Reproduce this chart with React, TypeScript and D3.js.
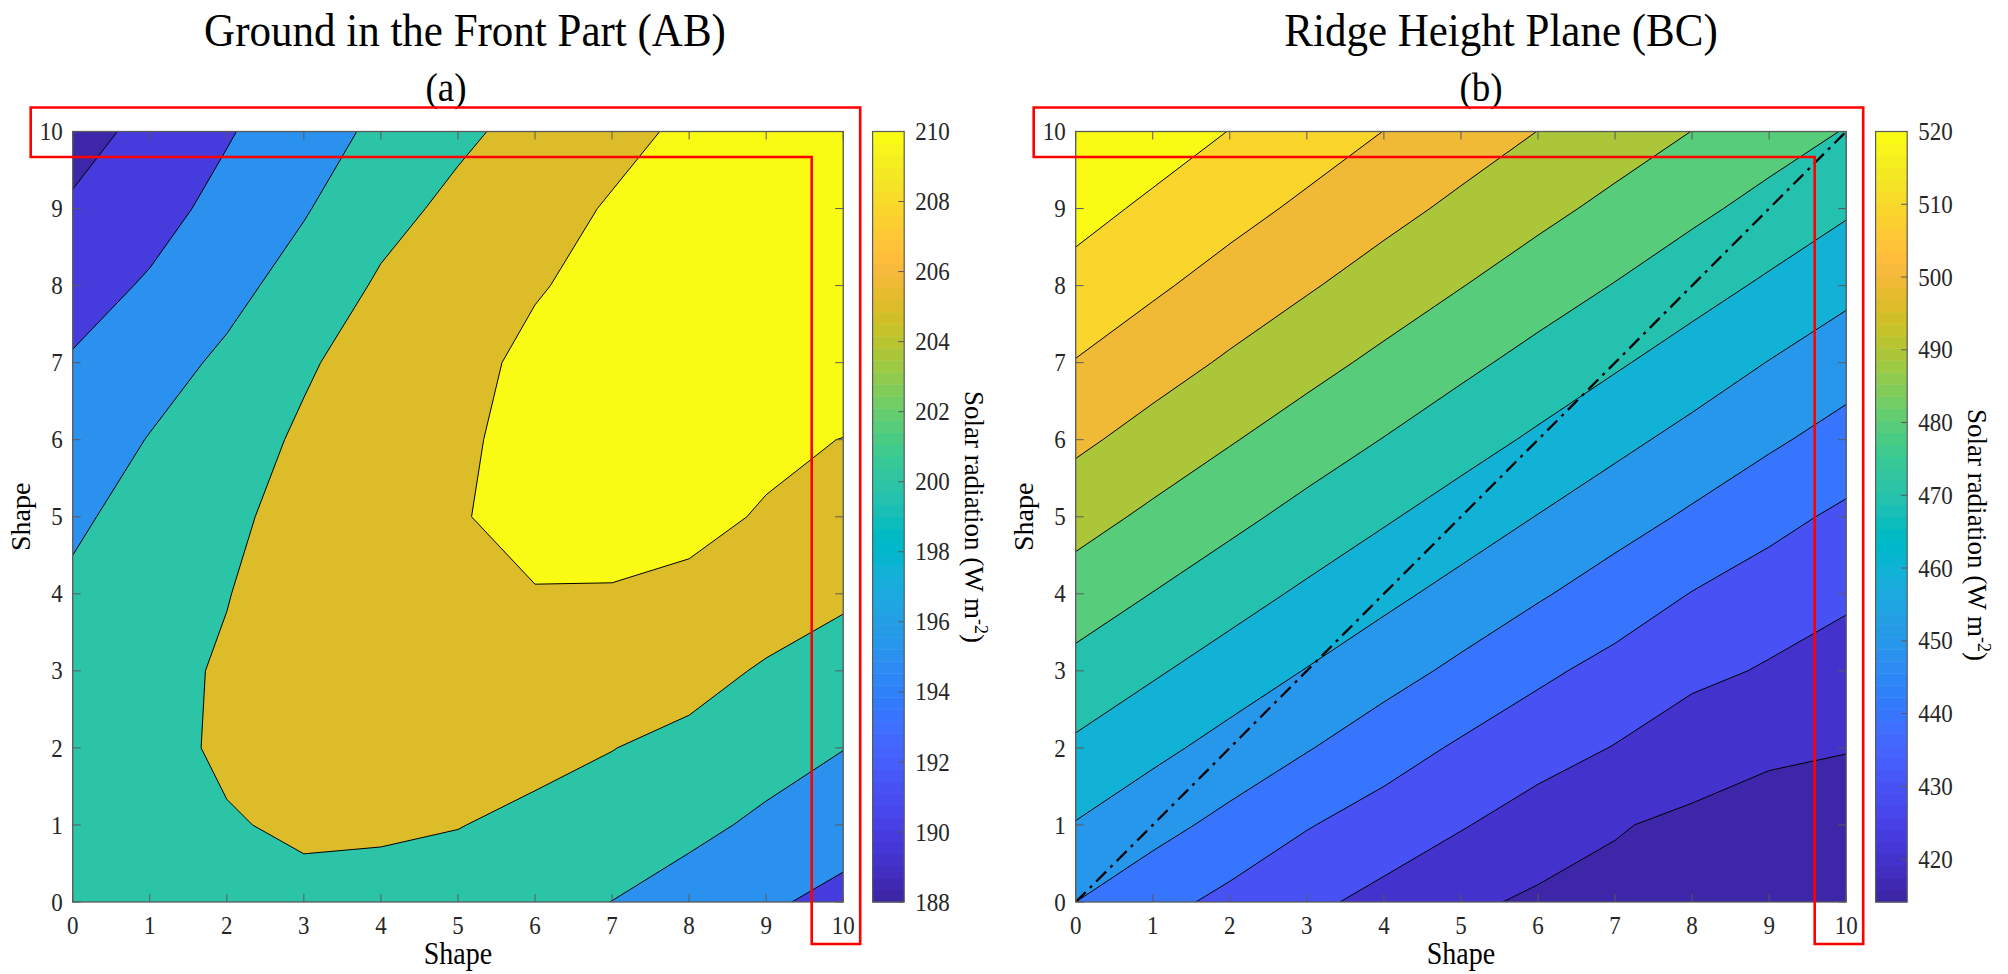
import React from "react";
import * as d3 from "d3";

// MATLAB parula colormap (64 entries)
const PARULA = [
  "#3e26a8", "#402ab4", "#422ec0", "#4332cb", "#4537d5", "#463cde", "#4741e5", "#4747eb",
  "#484df0", "#4852f4", "#4758f8", "#465efb", "#4563fd", "#4269fe", "#3e6fff", "#3875fe",
  "#327cfc", "#2f81fa", "#2e87f7", "#2d8cf3", "#2b91ef", "#2797eb", "#259be8", "#23a0e5",
  "#20a5e3", "#1ca9df", "#18addb", "#12b1d6", "#08b5d0", "#01b8ca", "#02bac3", "#0bbdbd",
  "#19bfb6", "#24c1ae", "#2cc4a7", "#31c69f", "#37c897", "#3fca8e", "#4acb84", "#57cc7a",
  "#64cd6f", "#72cd64", "#81cc59", "#8fcb4e", "#9dc943", "#abc739", "#b9c431", "#c5c22a",
  "#d1bf27", "#dcbd29", "#e6bb2d", "#f0ba36", "#f8ba3d", "#febe3c", "#fec338", "#fec934",
  "#fccf30", "#fad62d", "#f7dc2a", "#f5e327", "#f5e924", "#f6ef20", "#f7f51b", "#f9fb15",
];

const SHAPE_TICKS = [0, 1, 2, 3, 4, 5, 6, 7, 8, 9, 10];

// Ground in the front part (AB): rows are Shape (y) = 0..10, columns Shape (x) = 0..10
const AB_VALUES = [
  [201.8, 202.6, 203.4, 204.0, 204.0, 203.4, 202.0, 199.95, 197.9, 195.7, 193.6],
  [202.3, 203.3, 204.7, 205.6, 205.4, 205.1, 204.2, 202.9, 201.2, 199.1, 197.2],
  [202.5, 203.8, 205.6, 206.6, 207.0, 206.8, 206.0, 205.1, 203.6, 202.0, 200.1],
  [201.8, 203.7, 205.5, 207.0, 207.8, 208.3, 208.4, 207.9, 206.9, 204.4, 203.6],
  [200.9, 203.0, 204.85, 207.3, 208.6, 209.4, 209.9, 209.85, 209.5, 208.0, 205.5],
  [199.1, 202.0, 204.3, 206.2, 208.0, 209.85, 210.7, 210.9, 210.6, 209.8, 209.0],
  [197.2, 200.2, 203.2, 205.6, 207.5, 209.6, 210.8, 211.3, 211.4, 210.5, 209.95],
  [195.4, 198.0, 200.9, 204.5, 206.8, 209.2, 210.6, 211.2, 211.5, 211.6, 211.6],
  [193.1, 195.5, 198.5, 202.0, 205.6, 207.5, 209.8, 210.8, 211.3, 211.5, 211.6],
  [190.6, 193.3, 196.4, 199.6, 203.5, 206.1, 208.3, 210.4, 211.2, 211.5, 211.6],
  [188.2, 191.3, 194.6, 197.8, 201.0, 204.1, 206.5, 208.7, 210.8, 211.4, 211.6],
];
const AB_LEVELS = [190, 195, 200, 205, 210];
const AB_CLIM: [number, number] = [188, 210];
const AB_CB_TICKS = [188, 190, 192, 194, 196, 198, 200, 202, 204, 206, 208, 210];

// Ridge height plane (BC): rows are Shape (y) = 0..10, columns Shape (x) = 0..10
const BC_VALUES = [
  [450.0, 443.3, 437.4, 432.1, 427.2, 421.9, 418.4, 418.0, 416.7, 415.4, 414.1],
  [459.5, 453.4, 447.1, 440.6, 435.6, 430.7, 425.5, 420.5, 418.5, 417.6, 416.5],
  [468.3, 462.5, 456.6, 450.6, 444.4, 438.7, 434.0, 429.6, 423.8, 421.0, 420.3],
  [477.0, 471.2, 465.4, 459.6, 453.8, 447.9, 441.9, 437.0, 432.6, 429.0, 426.3],
  [485.4, 479.8, 474.1, 468.3, 462.5, 456.8, 451.1, 445.4, 439.7, 435.5, 431.4],
  [493.8, 488.1, 482.6, 476.9, 471.2, 465.4, 459.7, 454.1, 448.6, 442.9, 438.1],
  [502.0, 496.3, 490.7, 485.2, 479.7, 474.1, 468.4, 462.6, 457.0, 451.6, 446.2],
  [509.6, 504.2, 498.7, 493.2, 487.8, 482.3, 476.8, 471.2, 465.5, 459.7, 454.5],
  [516.7, 511.5, 506.2, 501.0, 495.6, 490.3, 484.9, 479.6, 474.0, 468.4, 462.6],
  [523.3, 518.2, 513.2, 508.2, 503.1, 497.9, 492.7, 487.5, 482.2, 476.8, 471.3],
  [530.0, 524.9, 519.8, 514.9, 509.9, 505.0, 499.9, 495.0, 489.9, 484.7, 479.5],
];
const BC_LEVELS = [420, 430, 440, 450, 460, 470, 480, 490, 500, 510, 520];
const BC_CLIM: [number, number] = [414.1, 520];
const BC_CB_TICKS = [420, 430, 440, 450, 460, 470, 480, 490, 500, 510, 520];

// Reference diagonal drawn on the ridge plane
const DIAGONAL: [number, number][] = [[0, 0], [10, 10]];

const FONT = "'Liberation Serif', 'Times New Roman', Times, serif";
const AXIS_COLOR = "#5a5a5a";
const TEXT_COLOR = "#262626";
const STRETCH = 1.1; // glyphs are drawn slightly taller than wide

const TOP = 131.5;
const SIZE = 770.5;

type TxtProps = {
  x: number;
  y: number;
  size: number;
  anchor?: "start" | "middle" | "end";
  fill?: string;
  dy?: string;
  children: React.ReactNode;
};

function Txt({ x, y, size, anchor = "start", fill = "#000", dy, children }: TxtProps) {
  return (
    <text
      transform={`translate(${x},${y}) scale(1,${STRETCH})`}
      dy={dy}
      textAnchor={anchor}
      fontSize={size}
      fill={fill}
      fontFamily={FONT}
    >
      {children}
    </text>
  );
}

type PanelProps = {
  id: string;
  left: number;
  values: number[][];
  levels: number[];
  clim: [number, number];
  cbTicks: number[];
  title: string;
  sub: string;
  titleX: number;
  subX: number;
  cbLabelY: number;
  diagonal?: [number, number][];
};

function Panel(p: PanelProps) {
  const x = d3.scaleLinear().domain([0, 10]).range([p.left, p.left + SIZE]);
  const y = d3.scaleLinear().domain([0, 10]).range([TOP + SIZE, TOP]);
  const color = d3.scaleQuantize<string>().domain(p.clim).range(PARULA);

  const nx = p.values[0].length;
  const ny = p.values.length;
  const sx = 10 / (nx - 1);
  const sy = 10 / (ny - 1);
  const flat = p.values.flat();
  const bands = d3.contours().size([nx, ny]).thresholds(p.levels)(flat);
  const path = d3.geoPath(
    d3.geoTransform({
      point(px: number, py: number) {
        (this as any).stream.point(x((px - 0.5) * sx), y((py - 0.5) * sy));
      },
    })
  );

  const x0 = x(0), x1 = x(10), y0 = y(0), y1 = y(10);
  const cbLeft = x1 + 29.4;
  const cbW = 31.6;
  const cbY = d3.scaleLinear().domain(p.clim).range([TOP + SIZE, TOP]);

  const highlight = [
    [x0 - 42, y1 - 24],
    [x1 + 17, y1 - 24],
    [x1 + 17, y0 + 42],
    [x1 - 31.5, y0 + 42],
    [x1 - 31.5, y1 + 25.5],
    [x0 - 42, y1 + 25.5],
  ];
  const diagLine = d3
    .line<[number, number]>()
    .x((d) => x(d[0]))
    .y((d) => y(d[1]));

  const tickLen = 8;

  return (
    <g>
      <defs>
        <clipPath id={`clip-${p.id}`}>
          <rect x={x0} y={y1} width={x1 - x0} height={y0 - y1} />
        </clipPath>
      </defs>

      {/* filled contour bands */}
      <g clipPath={`url(#clip-${p.id})`}>
        <rect x={x0} y={y1} width={x1 - x0} height={y0 - y1} fill={color(d3.min(flat) as number)} />
        {bands.map((b, i) => (
          <path key={`f${i}`} d={path(b as any) || ""} fill={color(b.value)} stroke="none" />
        ))}
        {bands.map((b, i) => (
          <path key={`l${i}`} d={path(b as any) || ""} fill="none" stroke="#000" strokeWidth={1} strokeLinejoin="round" />
        ))}
        {p.diagonal && (
          <path
            d={diagLine(p.diagonal) || ""}
            fill="none"
            stroke="#000"
            strokeWidth={2.3}
            strokeDasharray="14 6 3 6"
          />
        )}
      </g>

      {/* axes box and inward ticks */}
      <rect x={x0} y={y1} width={x1 - x0} height={y0 - y1} fill="none" stroke={AXIS_COLOR} strokeWidth={1.3} />
      {SHAPE_TICKS.map((t) => (
        <g key={`t${t}`} stroke={AXIS_COLOR} strokeWidth={1}>
          <line x1={x(t)} x2={x(t)} y1={y0} y2={y0 - tickLen} />
          <line x1={x(t)} x2={x(t)} y1={y1} y2={y1 + tickLen} />
          <line x1={x0} x2={x0 + tickLen} y1={y(t)} y2={y(t)} />
          <line x1={x1} x2={x1 - tickLen} y1={y(t)} y2={y(t)} />
        </g>
      ))}
      {SHAPE_TICKS.map((t) => (
        <Txt key={`xl${t}`} x={x(t)} y={y0 + 32} size={23} anchor="middle" fill={TEXT_COLOR}>
          {t}
        </Txt>
      ))}
      {SHAPE_TICKS.map((t) => (
        <Txt key={`yl${t}`} x={x0 - 10} y={y(t)} dy="0.34em" size={23} anchor="end" fill={TEXT_COLOR}>
          {t}
        </Txt>
      ))}
      <Txt x={(x0 + x1) / 2} y={y0 + 62} size={28} anchor="middle">
        Shape
      </Txt>
      <text
        transform={`translate(${x0 - 43},${(y0 + y1) / 2}) rotate(-90)`}
        textAnchor="middle"
        fontSize={28}
        fill="#000"
        fontFamily={FONT}
      >
        Shape
      </text>

      {/* colorbar */}
      {PARULA.map((c, i) => {
        const [a, b] = color.invertExtent(c);
        return (
          <rect
            key={`cb${i}`}
            x={cbLeft}
            y={cbY(b as number)}
            width={cbW}
            height={cbY(a as number) - cbY(b as number) + 0.5}
            fill={c}
          />
        );
      })}
      <rect x={cbLeft} y={TOP} width={cbW} height={SIZE} fill="none" stroke={AXIS_COLOR} strokeWidth={1.2} />
      {p.cbTicks.map((t) => (
        <g key={`cbt${t}`}>
          <line x1={cbLeft + cbW} x2={cbLeft + cbW - 6} y1={cbY(t)} y2={cbY(t)} stroke={AXIS_COLOR} strokeWidth={1} />
          <Txt x={cbLeft + cbW + 11} y={cbY(t)} dy="0.34em" size={23} fill={TEXT_COLOR}>
            {t}
          </Txt>
        </g>
      ))}
      <text
        transform={`translate(${cbLeft + cbW + 61},${p.cbLabelY}) rotate(90)`}
        textAnchor="middle"
        fontSize={27}
        fill="#000"
        fontFamily={FONT}
      >
        Solar radiation (W m
        <tspan dy={-10} fontSize={18}>-2</tspan>
        <tspan dy={10}>)</tspan>
      </text>

      {/* titles */}
      <Txt x={p.titleX} y={45.5} size={43} anchor="middle">
        {p.title}
      </Txt>
      <Txt x={p.subX} y={101} size={37} anchor="middle">
        {p.sub}
      </Txt>

      {/* highlighted top row and right column */}
      <path
        d={(d3.line()(highlight as [number, number][]) || "") + "Z"}
        fill="none"
        stroke="#ff0000"
        strokeWidth={2.6}
      />
    </g>
  );
}

export default function App() {
  return (
    <svg
      width={2008}
      height={974}
      viewBox="0 0 2008 974"
      style={{ position: "absolute", left: 0, top: 0, display: "block", background: "#fff" }}
    >
      <rect x={0} y={0} width={2008} height={974} fill="#fff" />
      <Panel
        id="ab"
        left={72.7}
        values={AB_VALUES}
        levels={AB_LEVELS}
        clim={AB_CLIM}
        cbTicks={AB_CB_TICKS}
        title="Ground in the Front Part (AB)"
        sub="(a)"
        titleX={465}
        subX={446}
        cbLabelY={517}
      />
      <Panel
        id="bc"
        left={1075.7}
        values={BC_VALUES}
        levels={BC_LEVELS}
        clim={BC_CLIM}
        cbTicks={BC_CB_TICKS}
        title="Ridge Height Plane (BC)"
        sub="(b)"
        titleX={1501}
        subX={1481}
        cbLabelY={535}
        diagonal={DIAGONAL}
      />
    </svg>
  );
}
